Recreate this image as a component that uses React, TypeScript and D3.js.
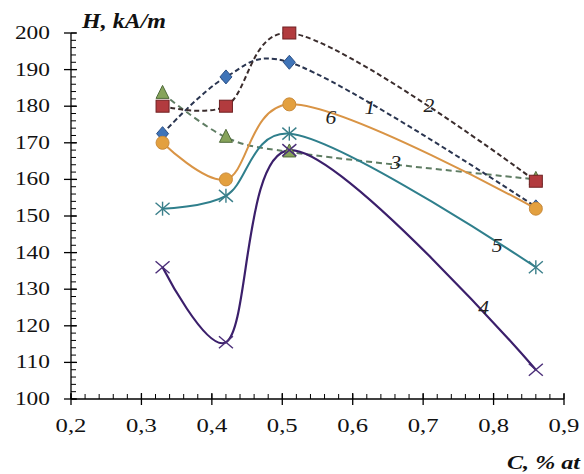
import React from "react";
import * as d3 from "d3";

const xVals = [0.33, 0.42, 0.51, 0.86];
const s1 = [172.5, 188, 192, 152.5];
const s2 = [180, 180, 200, 159.5];
const s3 = [183.5, 171.5, 167.5, 160];
const s4 = [136, 115.5, 168, 108];
const s5 = [152, 155.5, 172.5, 136];
const s6 = [170, 160, 180.5, 152];

const seriesNames = ["1", "2", "3", "4", "5", "6"];
const labelC = [0.6245, 0.708, 0.661, 0.786, 0.805, 0.569];
const labelH = [179.5, 180, 164.5, 125, 141.8, 176.8];

const xTicks = [0.2, 0.3, 0.4, 0.5, 0.6, 0.7, 0.8, 0.9];
const xTickLabels = ["0,2", "0,3", "0,4", "0,5", "0,6", "0,7", "0,8", "0,9"];
const yTicks = [100, 110, 120, 130, 140, 150, 160, 170, 180, 190, 200];

const W = 584, H = 474;
const x = d3.scaleLinear().domain([0.2, 0.9]).range([71, 564]);
const y = d3.scaleLinear().domain([100, 200]).range([399, 33]);

const serif = "'Liberation Serif', 'Times New Roman', serif";

type Style = { line: string; dash?: string; width: number; marker: string; fill: string; stroke: string };
const styles: Style[] = [
  { line: "#2a3550", dash: "5,3", width: 2, marker: "diamond", fill: "#3f74b8", stroke: "#2a4f86" },
  { line: "#3a2c2c", dash: "5,3", width: 2, marker: "square", fill: "#b23b3e", stroke: "#6e2022" },
  { line: "#5f7d63", dash: "6,4", width: 2, marker: "triangle", fill: "#86a35a", stroke: "#4f6a3a" },
  { line: "#3b1f6b", width: 2.2, marker: "x", fill: "none", stroke: "#4a2d78" },
  { line: "#2f7f8c", width: 2, marker: "star", fill: "none", stroke: "#3a7f8a" },
  { line: "#d99445", width: 2, marker: "circle", fill: "#e3a03f", stroke: "#c98a3a" },
];
const data = [s1, s2, s3, s4, s5, s6];

const Marker = ({ kind, cx, cy, fill, stroke }: { kind: string; cx: number; cy: number; fill: string; stroke: string }) => {
  const r = 6;
  switch (kind) {
    case "diamond":
      return <path d={`M${cx},${cy - r - 1}L${cx + r},${cy}L${cx},${cy + r + 1}L${cx - r},${cy}Z`} fill={fill} stroke={stroke} strokeWidth={1} />;
    case "square":
      return <rect x={cx - 6.5} y={cy - 6} width={13} height={12} fill={fill} stroke={stroke} strokeWidth={1} />;
    case "triangle":
      return <path d={`M${cx},${cy - 8}L${cx + 6.5},${cy + 5}L${cx - 6.5},${cy + 5}Z`} fill={fill} stroke={stroke} strokeWidth={1} />;
    case "x":
      return (
        <g stroke={stroke} strokeWidth={1.4}>
          <line x1={cx - 7} y1={cy - 6} x2={cx + 7} y2={cy + 6} />
          <line x1={cx - 7} y1={cy + 6} x2={cx + 7} y2={cy - 6} />
        </g>
      );
    case "star":
      return (
        <g stroke={stroke} strokeWidth={1.4}>
          <line x1={cx - 7} y1={cy - 6} x2={cx + 7} y2={cy + 6} />
          <line x1={cx - 7} y1={cy + 6} x2={cx + 7} y2={cy - 6} />
          <line x1={cx} y1={cy - 7} x2={cx} y2={cy + 7} />
        </g>
      );
    default:
      return <circle cx={cx} cy={cy} r={6.5} fill={fill} stroke={stroke} strokeWidth={1} />;
  }
};

export default function App() {
  const lineGen = d3
    .line<[number, number]>()
    .x((d) => x(d[0]))
    .y((d) => y(d[1]))
    .curve(d3.curveCatmullRom.alpha(0.25));

  const xMinor = d3.range(0.2, 0.9001, 0.02);
  const yMinor = d3.range(100, 200.001, 2);
  const x0 = x(0.2), y0 = y(100);

  const order = [2, 0, 1, 5, 4, 3];

  return (
    <svg width={W} height={H} style={{ position: "absolute", left: 0, top: 0, background: "#fff" }}>
      {/* axes */}
      <g stroke="#000" strokeWidth={1.3}>
        <line x1={x0} y1={y(200)} x2={x0} y2={y0} />
        <line x1={x0} y1={y0} x2={x(0.9)} y2={y0} />
        {yMinor.map((v, i) => (
          <line key={"ym" + i} x1={x0} x2={x0 + 5} y1={y(v)} y2={y(v)} strokeWidth={1} />
        ))}
        {xMinor.map((v, i) => (
          <line key={"xm" + i} x1={x(v)} x2={x(v)} y1={y0} y2={y0 - 5} strokeWidth={1} />
        ))}
        {yTicks.map((v) => (
          <line key={"yt" + v} x1={x0 - 7} x2={x0 + 6} y1={y(v)} y2={y(v)} />
        ))}
        {xTicks.map((v) => (
          <line key={"xt" + v} x1={x(v)} x2={x(v)} y1={y0 - 6} y2={y0 + 6} />
        ))}
      </g>
      {yTicks.map((v) => (
        <text
          key={"yl" + v}
          transform={`translate(${x0 - 21},${y(v) + 6}) scale(1.3,1)`}
          textAnchor="end"
          fontFamily={serif}
          fontSize={18}
          fill="#111"
        >
          {v}
        </text>
      ))}
      {xTicks.map((v, i) => (
        <text
          key={"xl" + v}
          transform={`translate(${x(v)},${y0 + 33}) scale(1.3,1)`}
          textAnchor="middle"
          fontFamily={serif}
          fontSize={19}
          fill="#111"
        >
          {xTickLabels[i]}
        </text>
      ))}
      <text transform="translate(82,28) scale(1.2,1)" fontFamily={serif} fontSize={20} fontWeight="bold" fontStyle="italic" fill="#111">
        H, kA/m
      </text>
      <text transform="translate(507,469) scale(1.27,1)" fontFamily={serif} fontSize={19} fontWeight="bold" fontStyle="italic" fill="#111">
        C, % at
      </text>

      {/* lines */}
      {order.map((si) => {
        const st = styles[si];
        const pts = xVals.map((c, j) => [c, data[si][j]] as [number, number]);
        return (
          <path
            key={"l" + si}
            d={lineGen(pts) || ""}
            fill="none"
            stroke={st.line}
            strokeWidth={st.width}
            strokeDasharray={st.dash}
          />
        );
      })}
      {/* markers */}
      {order.map((si) => {
        const st = styles[si];
        return (
          <g key={"m" + si}>
            {xVals.map((c, j) => (
              <Marker key={j} kind={st.marker} cx={x(c)} cy={y(data[si][j])} fill={st.fill} stroke={st.stroke} />
            ))}
          </g>
        );
      })}
      {/* series labels */}
      {seriesNames.map((n, i) => (
        <text
          key={"sl" + n}
          transform={`translate(${x(labelC[i])},${y(labelH[i]) + 6}) scale(1.2,1)`}
          textAnchor="middle"
          fontFamily={serif}
          fontSize={18}
          fontStyle="italic"
          fill="#222"
        >
          {n}
        </text>
      ))}
    </svg>
  );
}
